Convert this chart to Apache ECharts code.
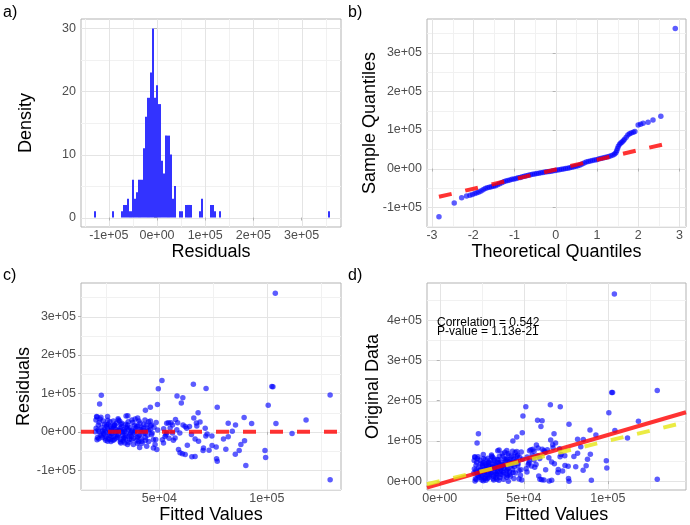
<!DOCTYPE html>
<html>
<head>
<meta charset="utf-8">
<style>
html, body { margin: 0; padding: 0; background: #fff; }
#chart { width: 690px; height: 525px; }
</style>
<script src="https://cdn.jsdelivr.net/npm/echarts@6/dist/echarts.min.js"></script>
</head>
<body>
<div id="chart"></div>
<script>
// histogram of residuals (bin index from binStart, count)
var binStart = -131300;
var binWidth = 4630;
var histBin = [0, 8, 12, 13, 14, 15, 16, 17, 18, 19, 20, 21, 22, 23, 24, 25, 26, 27, 28, 29,
	30, 31, 32, 33, 34, 35, 36, 38, 39, 41, 42, 43, 47, 48, 52, 53, 54, 56, 105];
var histCount = [1, 1, 1, 2, 2, 3, 1, 6, 3, 4, 6, 6, 11, 16, 19, 23, 30, 19, 21, 18,
	9, 7, 13, 13, 10, 3, 5, 1, 1, 2, 2, 2, 1, 3, 2, 2, 1, 1, 1];

// model values, one entry per observation
var fitted = [
	103900, 102300, 102800, 129400, 100600, 118200, 104200, 111700, 99100, 99400,
	129400, 90200, 89400, 92900, 89600, 87900, 87100, 85300, 85400, 83900,
	82000, 82000, 80900, 79800, 76900, 76600, 76900, 76400, 74500, 73100,
	71700, 74400, 72200, 71600, 71300, 70300, 68900, 68000, 67400, 67200,
	66600, 66600, 65800, 65100, 66000, 64900, 51200, 49500, 58200, 60900,
	60200, 53400, 54200, 55400, 56100, 58500, 62000, 62700, 52600, 51900,
	51400, 53400, 56100, 58100, 57300, 58900, 59600, 60700, 62000, 68200,
	70500, 23000, 22200, 45800, 49100, 43500, 34500, 35300, 39900, 20800,
	25900, 21000, 20500, 22400, 23900, 21600, 20600, 21900, 21000, 23400,
	24700, 25500, 27000, 28600, 29300, 27800, 26500, 27500, 25900, 29000,
	30100, 30900, 31700, 30900, 32500, 33200, 32100, 34000, 34300, 35600,
	36300, 37100, 35200, 37900, 38700, 40500, 39400, 41000, 40200, 41800,
	40800, 43300, 44100, 44900, 45700, 46400, 46400, 47200, 48000, 47200,
	48800, 44100, 43300, 42500, 37100, 33700, 21500, 22500, 23200, 24000,
	24500, 25200, 25800, 26300, 26800, 27300, 27900, 28400, 28900, 29500,
	30000, 30600, 31200, 31800, 32300, 32900, 33500, 34100, 34600, 35200,
	35800, 36400, 37000, 37600, 38200, 38800, 39400, 40000, 40600, 41300,
	42000, 42700, 43400, 44200, 45000, 45800, 46600, 47500, 48300, 49200,
	22000, 23600, 24800, 26000, 27100, 28200, 29100, 30300, 31500, 32600,
	33800, 35000, 36100, 37300, 38500, 39700, 41000, 42300, 43600, 45000,
	20300, 21200, 22800, 24200, 25500, 26600, 27700, 28700, 29800, 30800,
	31900, 33000, 34300, 35500, 36700, 38000, 39000, 40300, 41700, 43000,
	21800, 23000, 24400, 25000, 26200, 27500, 28600, 29700, 31000, 32100,
	33300, 34500, 35900, 37200, 38400, 39800, 41500, 44500, 46000, 48500,
	53000, 55000, 56500, 57500, 59500, 61000, 63000, 64000, 52000, 54500
];
var residuals = [
	360700, 117900, 117100, 95700, 69200, 30800, 21400, -4300, -48700, -66700,
	-124800, -88000, 37600, 21400, -23100, -33300, -48700, -58100, 17900, 1700,
	22200, -12800, -45300, -18800, 64100, -70100, -76900, -39300, -35900, -47900,
	112800, -11100, -6000, -11100, 9400, -48700, 25600, 49600, 15400, 23100,
	-64100, -18800, 123900, -65000, 35900, -6800, 133300, 112000, 93200, 88900,
	75200, 22200, 23900, 23900, 17900, 23900, 13700, 9400, -12000, -29100,
	-20500, -3400, -3400, 5100, -16200, -46200, -54700, -57300, -59000, -24800,
	-41900, 94900, 72600, 64100, 70900, 56400, 41000, 41900, 36000, 40000,
	40000, 38500, 30800, 33300, 28200, 17900, 9400, 900, -20500, -14500,
	900, 17900, 26500, 28200, 16200, 9400, -3400, -12000, -24800, -20500,
	900, -7700, 9400, 30800, 22200, -16200, -29100, -29100, 19700, 5100,
	-7700, -20500, -33300, -33300, 33300, 28200, 13700, 900, -12000, -24800,
	-40800, 30800, 17900, 26500, 5100, 17900, -7700, -20500, -33300, -41900,
	-46200, -37600, -3400, 9400, 900, 900, 5000, -8000, 12000, -3000,
	20000, -12000, 8000, -18000, 3000, 15000, -6000, -22000, 10000, -2000,
	22000, -14000, 4000, -26000, 13000, -9000, 7000, -19000, -4000, 18000,
	-27000, 11000, -12000, 24000, -6000, 3000, -22000, 15000, -9000, 6000,
	-30000, 20000, -15000, 10000, -25000, 28000, -3000, 12000, -20000, 5000,
	25000, 2000, -17000, 30000, -20000, 1000, 18000, -10000, 28000, -1000,
	-15000, 9000, -20000, 4000, 17000, -14000, 23000, -5000, -22000, 4000,
	0, -15000, 38000, -6000, 14000, -9000, 4000, -13000, 7000, 34000,
	-20000, 0, -10000, 26000, -2000, -17000, 10000, -26000, 12000, 2000,
	-18000, -10000, 6000, -22000, 20000, -25000, 15000, -17000, 3000, 20000,
	-24000, 12000, -13000, 31000, -1000, -30000, -18000, -9000, 16000, 24000,
	-8000, 10000, -22000, 32000, -3000, 18000, -35000, 14000, 8000, -17000
];
var original = [
	464600, 220200, 219900, 225100, 169800, 149000, 125600, 107400, 50400, 32700,
	4600, 2200, 127000, 114300, 66500, 54600, 38400, 27200, 103300, 85600,
	104200, 69200, 35600, 61000, 141000, 6500, 0, 37100, 38600, 25200,
	184500, 63300, 66200, 60500, 80700, 21600, 94500, 117600, 82800, 90300,
	2500, 47800, 189700, 100, 101900, 58100, 184500, 161500, 151400, 149800,
	135400, 75600, 78100, 79300, 74000, 82400, 75700, 72100, 40600, 22800,
	30900, 50000, 52700, 63200, 41100, 12700, 4900, 3400, 3000, 43400,
	28600, 117900, 94800, 109900, 120000, 99900, 75500, 77200, 75900, 60800,
	65900, 59500, 51300, 55700, 52100, 39500, 30000, 22800, 500, 8900,
	25600, 43400, 53500, 56800, 45500, 37200, 23100, 15500, 1100, 8500,
	31000, 23200, 41100, 61700, 54700, 17000, 3000, 4900, 54000, 40700,
	28600, 16600, 1900, 4600, 72000, 68700, 53100, 41900, 28200, 17000,
	0, 74100, 62000, 71400, 50800, 64300, 38700, 26700, 14700, 5300,
	2600, 6500, 39900, 51900, 38000, 34600, 26500, 14500, 35200, 21000,
	44500, 13200, 33800, 8300, 29800, 42300, 21900, 6400, 38900, 27500,
	52000, 16600, 35200, 5800, 45300, 23900, 40500, 15100, 30600, 53200,
	8800, 47400, 25000, 61600, 32200, 41800, 17400, 55000, 31600, 47300,
	12000, 62700, 28400, 54200, 20000, 73800, 43600, 59500, 28300, 54200,
	47000, 25600, 7800, 56000, 7100, 29200, 47100, 20300, 59500, 31600,
	18800, 44000, 16100, 41300, 55500, 25700, 64000, 37300, 21600, 49000,
	20300, 6200, 60800, 18200, 39500, 17600, 31700, 15700, 36800, 64800,
	11900, 33000, 24300, 61500, 34700, 21000, 49000, 14300, 53700, 45000,
	3800, 13000, 30400, 3000, 46200, 2500, 43600, 12700, 34000, 52100,
	9300, 46500, 22900, 68200, 37400, 9800, 23500, 35500, 62000, 72500,
	45000, 65000, 34500, 89500, 56500, 79000, 28000, 78000, 60000, 37500
];

// normal QQ plot
var qqTheory = [-2.83, -2.46, -2.28, -2.16, -2.08, -2.02, -1.96, -1.91, -1.86, -1.81,
	-1.76, -1.71, -1.66, -1.61, -1.56, -1.51, -1.46, -1.41, -1.36, -1.31,
	-1.26, -1.21, -1.16, -1.11, -1.06, -1.01, -0.96, -0.91, -0.86, -0.81,
	-0.76, -0.71, -0.66, -0.61, -0.56, -0.51, -0.46, -0.41, -0.36, -0.31,
	-0.26, -0.21, -0.16, -0.11, -0.06, -0.01, 0.04, 0.09, 0.14, 0.19,
	0.24, 0.29, 0.34, 0.39, 0.44, 0.49, 0.54, 0.59, 0.64, 0.69,
	0.74, 0.79, 0.84, 0.89, 0.94, 0.99, 1.04, 1.09, 1.14, 1.19,
	1.24, 1.29, 1.34, 1.39, 1.43, 1.46, 1.48, 1.50, 1.52, 1.55,
	1.58, 1.61, 1.64, 1.67, 1.71, 1.75, 1.79, 1.83, 1.88, 1.92,
	2.00, 2.06, 2.12, 2.24, 2.36, 2.55, 2.90];
var qqSample = [-125000, -89000, -76000, -71000, -69000, -67000, -65000, -63000, -61000, -58000,
	-55000, -52000, -50000, -48500, -47000, -46000, -44500, -42000, -39500, -37000,
	-34500, -32500, -31000, -29500, -28000, -27000, -25500, -24000, -23000, -21500,
	-20000, -18800, -17500, -16300, -15000, -14000, -13000, -12000, -11000, -10000,
	-9000, -8200, -7500, -6800, -6000, -5000, -4000, -3000, -2000, -1000,
	0, 1000, 2200, 3400, 4800, 6000, 7500, 9000, 11500, 14500,
	17000, 18500, 19800, 21000, 22000, 23000, 24500, 25800, 27000, 28300,
	29800, 31300, 33000, 35000, 37500, 41000, 46000, 52000, 58000, 63000,
	66000, 69000, 72000, 76000, 81000, 87000, 90000, 92000, 94000, 96000,
	113000, 115000, 117500, 120000, 126000, 135500, 363000];

// reference lines (end points)
var qqLineX = [-2.83, 2.64];
var qqLineY = [-73200, 63400];
var zeroLineX = [13550, 134450];
var zeroLineY = [0, 0];
var fitLineX = [-7580, 146500];
var fitLineY = [-16000, 171000];
var identityX = [-7580, 146500];
var identityY = [-7580, 146500];

// tick values and labels
var expTicks = [-100000, 0, 100000, 200000, 300000];
var expLabels = ['-1e+05', '0e+00', '1e+05', '2e+05', '3e+05'];
var expMinor = [-150000, -50000, 50000, 150000, 250000, 350000];
var densTicks = [0, 10, 20, 30];
var densMinor = [5, 15, 25];
var qTicks = [-3, -2, -1, 0, 1, 2, 3];
var qMinor = [-2.5, -1.5, -0.5, 0.5, 1.5, 2.5];
var cTicks = [50000, 100000];
var cLabels = ['5e+04', '1e+05'];
var dTicks = [0, 50000, 100000];
var dLabels = ['0e+00', '5e+04', '1e+05'];
var fitMinor = [25000, 75000, 125000];
var origTicks = [0, 100000, 200000, 300000, 400000];
var origLabels = ['0e+00', '1e+05', '2e+05', '3e+05', '4e+05'];
var origMinor = [50000, 150000, 250000, 350000, 450000];

var FONT = 'Liberation Sans, Arial, Helvetica, sans-serif';
var BLUE = 'rgba(0,0,255,0.8)';

var dom = document.getElementById('chart');
var myChart = echarts.init(dom);

function valueAxis(gi, min, max, ticks, labels, name, nameGap, margin) {
	return {
		type: 'value',
		gridIndex: gi,
		min: min,
		max: max,
		name: name,
		nameLocation: 'middle',
		nameGap: nameGap,
		nameTextStyle: { fontSize: 18, color: '#000', fontFamily: FONT },
		axisLine: { show: false },
		axisTick: { show: true, length: 3, customValues: ticks, lineStyle: { color: '#b3b3b3' } },
		axisLabel: {
			customValues: ticks,
			margin: margin,
			fontSize: 12.5,
			color: '#4d4d4d',
			fontFamily: FONT,
			formatter: function(v) {
				var i = ticks.indexOf(v);
				return i >= 0 ? labels[i] : '';
			}
		},
		splitLine: { show: false }
	};
}

// panel grid lines, drawn through the axes
function gridSeries(gi, xMajor, xMinor, yMajor, yMinor) {
	var lines = [];
	xMinor.forEach(function(v) { lines.push({ dir: 'v', v: v, major: false }); });
	yMinor.forEach(function(v) { lines.push({ dir: 'h', v: v, major: false }); });
	xMajor.forEach(function(v) { lines.push({ dir: 'v', v: v, major: true }); });
	yMajor.forEach(function(v) { lines.push({ dir: 'h', v: v, major: true }); });
	return {
		type: 'custom',
		xAxisIndex: gi,
		yAxisIndex: gi,
		silent: true,
		z: 0,
		animation: false,
		data: lines.map(function(l) { return l.dir === 'v' ? [l.v, 0] : [0, l.v]; }),
		renderItem: function(params, api) {
			var l = lines[params.dataIndex];
			var cs = params.coordSys;
			var p = api.coord([api.value(0), api.value(1)]);
			var shape;
			if (l.dir === 'v') {
				var x = Math.round(p[0]) + 0.5;
				shape = { x1: x, y1: cs.y, x2: x, y2: cs.y + cs.height };
			} else {
				var y = Math.round(p[1]) + 0.5;
				shape = { x1: cs.x, y1: y, x2: cs.x + cs.width, y2: y };
			}
			return {
				type: 'line',
				shape: shape,
				style: { stroke: l.major ? '#e4e4e4' : '#f1f1f1', lineWidth: 1 }
			};
		}
	};
}

function pairs(xs, ys) {
	return xs.map(function(x, i) { return [x, ys[i]]; });
}

function refLine(gi, xs, ys, color, dashed, z) {
	return {
		type: 'line',
		xAxisIndex: gi,
		yAxisIndex: gi,
		data: pairs(xs, ys),
		symbol: 'none',
		silent: true,
		animation: false,
		z: z,
		lineStyle: { color: color, width: 4, type: dashed ? [13, 14] : 'solid', cap: 'butt' }
	};
}

function points(gi, xs, ys) {
	return {
		type: 'scatter',
		xAxisIndex: gi,
		yAxisIndex: gi,
		data: pairs(xs, ys),
		symbolSize: 5.5,
		itemStyle: { color: BLUE },
		animation: false,
		z: 2
	};
}

var histData = histBin.map(function(b, i) {
	return [binStart + b * binWidth, histCount[i], binStart + (b + 1) * binWidth];
});

var gridStyle = { show: true, borderColor: '#b3b3b3', borderWidth: 1, backgroundColor: '#fff' };
function panel(left, top, width) {
	return Object.assign({ left: left, top: top, width: width, height: 208 }, gridStyle);
}

function panelTitle(text, left, top) {
	return {
		text: text,
		left: left,
		top: top,
		padding: 0,
		textStyle: { fontSize: 16, fontWeight: 'normal', color: '#000', fontFamily: FONT }
	};
}

option = {
	backgroundColor: '#fff',
	title: [
		panelTitle('a)', 3, 5),
		panelTitle('b)', 348, 5),
		panelTitle('c)', 3, 268),
		panelTitle('d)', 348, 268)
	],
	grid: [
		panel(81, 19, 260),
		panel(427, 19, 259),
		panel(81, 283, 260),
		panel(427, 283, 259)
	],
	xAxis: [
		valueAxis(0, -157700, 381700, expTicks, expLabels, 'Residuals', 14, 2),
		valueAxis(1, -3.12, 3.16, qTicks, qTicks, 'Theoretical Quantiles', 14, 2),
		valueAxis(2, 13550, 134450, cTicks, cLabels, 'Fitted Values', 16, 2),
		valueAxis(3, -7580, 146500, dTicks, dLabels, 'Fitted Values', 16, 2)
	],
	yAxis: [
		valueAxis(0, -1.5, 31.5, densTicks, densTicks, 'Density', 46, 5),
		valueAxis(1, -151500, 387500, expTicks, expLabels, 'Sample Quantiles', 45, 5),
		valueAxis(2, -151500, 387500, expTicks, expLabels, 'Residuals', 46, 5),
		valueAxis(3, -22000, 492000, origTicks, origLabels, 'Original Data', 45, 5)
	],
	graphic: [
		{ type: 'text', left: 437, top: 317, z: 10, style: { text: 'Correlation = 0.542', font: '12px ' + FONT, fill: '#000' } },
		{ type: 'text', left: 437, top: 326, z: 10, style: { text: 'P-value = 1.13e-21', font: '12px ' + FONT, fill: '#000' } }
	],
	series: [
		gridSeries(0, expTicks, expMinor, densTicks, densMinor),
		gridSeries(1, qTicks, qMinor, expTicks, expMinor),
		gridSeries(2, cTicks, fitMinor, expTicks, expMinor),
		gridSeries(3, dTicks, fitMinor, origTicks, origMinor),
		{
			type: 'custom',
			xAxisIndex: 0,
			yAxisIndex: 0,
			data: histData,
			encode: { x: [0, 2], y: 1 },
			animation: false,
			z: 2,
			renderItem: function(params, api) {
				var p0 = api.coord([api.value(0), api.value(1)]);
				var p1 = api.coord([api.value(2), 0]);
				// snap bar edges to whole pixels so neighbouring bars join without seams
				var x0 = Math.round(p0[0]);
				var x1 = Math.round(p1[0]);
				return {
					type: 'rect',
					shape: { x: x0, y: p0[1], width: Math.max(1, x1 - x0), height: p1[1] - p0[1] },
					style: { fill: '#3333ff' }
				};
			}
		},
		points(1, qqTheory, qqSample),
		refLine(1, qqLineX, qqLineY, 'rgba(255,0,0,0.8)', true, 3),
		points(2, fitted, residuals),
		refLine(2, zeroLineX, zeroLineY, 'rgba(255,0,0,0.8)', true, 3),
		points(3, fitted, original),
		refLine(3, fitLineX, fitLineY, 'rgba(255,0,0,0.8)', false, 3),
		refLine(3, identityX, identityY, 'rgba(230,230,20,0.8)', true, 4)
	]
};
myChart.setOption(option, true);
</script>
</body>
</html>
